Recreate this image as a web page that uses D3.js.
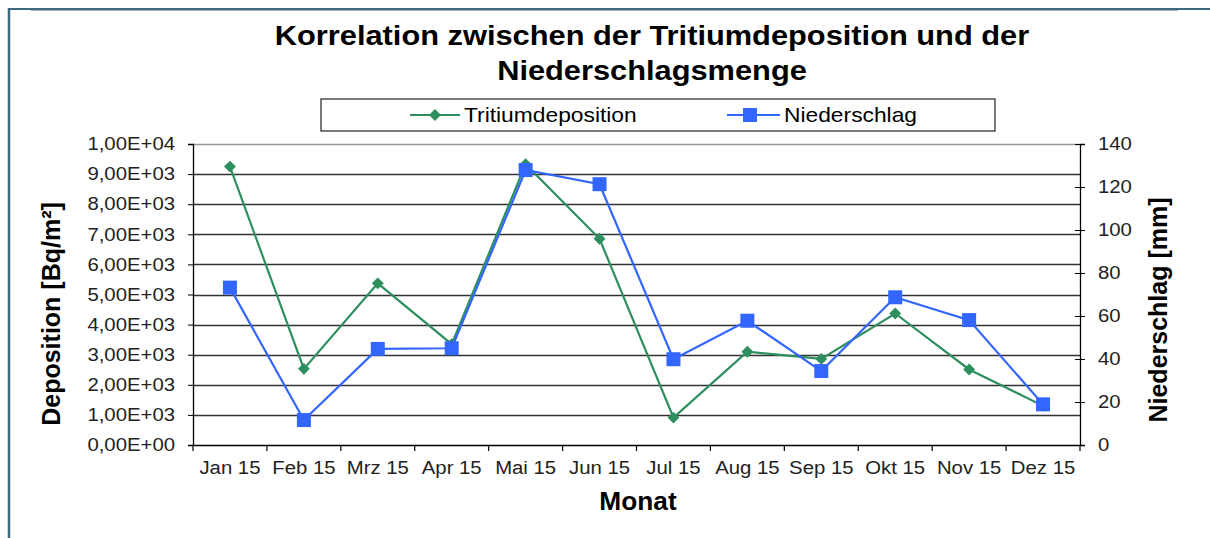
<!DOCTYPE html>
<html><head><meta charset="utf-8">
<script src="https://cdn.jsdelivr.net/npm/d3@7"></script>
<style>
html,body{margin:0;padding:0;background:#fff;}
svg{display:block;font-family:"Liberation Sans",Arial,sans-serif;}
</style></head>
<body><svg id="c" width="1210" height="538"></svg>
<script>
const months = ["Jan 15","Feb 15","Mrz 15","Apr 15","Mai 15","Jun 15","Jul 15","Aug 15","Sep 15","Okt 15","Nov 15","Dez 15"];
const tritium = [9250, 2530, 5370, 3350, 9330, 6850, 910, 3100, 2860, 4370, 2510, 1300];
const niederschlag = [73.2, 11.6, 44.7, 45.0, 127.9, 121.3, 39.9, 57.8, 34.4, 68.7, 58.1, 18.9];
const leftTicks = [0,1000,2000,3000,4000,5000,6000,7000,8000,9000,10000];
const leftTickLabels = ["0,00E+00","1,00E+03","2,00E+03","3,00E+03","4,00E+03","5,00E+03","6,00E+03","7,00E+03","8,00E+03","9,00E+03","1,00E+04"];
const rightTicks = [0,20,40,60,80,100,120,140];

const svg = d3.select("#c");
const green = "#2e8f5e", blue = "#3366ff";
const L = 193, R = 1080, T = 144, B = 445;
const SX = 1.13;

// frame
svg.append("line").attr("x1",9).attr("x2",1210).attr("y1",9).attr("y2",9).attr("stroke","#3d6a80").attr("stroke-width",2);
svg.append("line").attr("x1",9).attr("x2",9).attr("y1",8).attr("y2",538).attr("stroke","#3d6a80").attr("stroke-width",2.5);
svg.append("line").attr("x1",31).attr("x2",1178).attr("y1",10.5).attr("y2",10.5).attr("stroke","#b0b0b0").attr("stroke-width",1.2);

const x = d3.scaleBand().domain(months).range([L,R]);
const yL = d3.scaleLinear().domain([0,10000]).range([B,T]);
const yR = d3.scaleLinear().domain([0,140]).range([B,T]);

// title
const title = svg.append("text").attr("text-anchor","middle").attr("font-weight","bold").attr("font-size",28).attr("fill","#000")
  .attr("transform","translate(652,0) scale(1.1,1)");
title.append("tspan").attr("x",0).attr("y",45).text("Korrelation zwischen der Tritiumdeposition und der");
title.append("tspan").attr("x",0).attr("y",80).text("Niederschlagsmenge");

// gridlines
svg.append("g").selectAll("line").data(leftTicks.slice(1)).join("line")
  .attr("x1",L).attr("x2",R).attr("y1",d=>Math.round(yL(d))+0.5).attr("y2",d=>Math.round(yL(d))+0.5)
  .attr("stroke",d=>d===10000?"#999":"#333").attr("stroke-width",d=>d===10000?1.5:1.3);

function styleTicks(g){
  g.selectAll("text").attr("font-size",18).attr("fill","#222").attr("font-family","Liberation Sans, Arial, sans-serif");
}
// left axis
const gl = svg.append("g").attr("transform",`translate(${L},0)`)
  .call(d3.axisLeft(yL).tickValues(leftTicks).tickFormat((d,i)=>leftTickLabels[i]).tickSize(5).tickPadding(13));
gl.select(".domain").attr("stroke","#000").attr("stroke-width",1.3);
gl.selectAll(".tick line").attr("stroke","#000");
styleTicks(gl);
gl.selectAll("text").attr("x",-18/SX).attr("transform",`scale(${SX},1)`);

// right axis
const gr = svg.append("g").attr("transform",`translate(${R},0)`)
  .call(d3.axisRight(yR).tickValues(rightTicks).tickSize(5).tickPadding(13));
gr.select(".domain").attr("stroke","#000").attr("stroke-width",1.3);
gr.selectAll(".tick line").attr("stroke","#000").attr("x1",-5);
styleTicks(gr);
gr.selectAll("text").attr("x",18/SX).attr("transform",`scale(${SX},1)`);

// x axis
const gx = svg.append("g").attr("transform",`translate(0,${B})`)
  .call(d3.axisBottom(x).tickSize(0).tickPadding(16));
gx.select(".domain").attr("stroke","#000").attr("stroke-width",1.3);
styleTicks(gx);
gx.selectAll("text").attr("transform",`scale(${SX},1)`);
const bounds = months.map(m=>x(m)).concat([R]);
svg.append("g").selectAll("line").data(bounds).join("line")
  .attr("x1",d=>d).attr("x2",d=>d).attr("y1",B).attr("y2",B+6).attr("stroke","#000").attr("stroke-width",1.2);

// axis titles
svg.append("text").attr("transform","translate(60,314) rotate(-90)").attr("text-anchor","middle")
  .attr("font-weight","bold").attr("font-size",25).text("Deposition [Bq/m²]");
svg.append("text").attr("transform","translate(1167,310) rotate(-90)").attr("text-anchor","middle")
  .attr("font-weight","bold").attr("font-size",25).text("Niederschlag [mm]");
svg.append("text").attr("transform","translate(638,510) scale(1.05,1)").attr("text-anchor","middle")
  .attr("font-weight","bold").attr("font-size",25).text("Monat");

const cx = m => x(m) + x.bandwidth()/2;

// tritium line
svg.append("path").datum(tritium).attr("fill","none").attr("stroke",green).attr("stroke-width",2.2)
  .attr("d", d3.line().x((d,i)=>cx(months[i])).y(d=>yL(d)));
svg.append("g").selectAll("path").data(tritium).join("path")
  .attr("transform",(d,i)=>`translate(${cx(months[i])},${yL(d)})`)
  .attr("d", d3.symbol(d3.symbolDiamond2, 90)()).attr("fill",green);

// niederschlag line
svg.append("path").datum(niederschlag).attr("fill","none").attr("stroke",blue).attr("stroke-width",2.2)
  .attr("d", d3.line().x((d,i)=>cx(months[i])).y(d=>yR(d)));
svg.append("g").selectAll("rect").data(niederschlag).join("rect")
  .attr("x",(d,i)=>cx(months[i])-7).attr("y",d=>yR(d)-7).attr("width",14).attr("height",14).attr("fill",blue);

// legend
svg.append("rect").attr("x",321).attr("y",99).attr("width",674).attr("height",32)
  .attr("fill","#fff").attr("stroke","#222").attr("stroke-width",1.2);
svg.append("line").attr("x1",410).attr("x2",460).attr("y1",115).attr("y2",115).attr("stroke",green).attr("stroke-width",2.2);
svg.append("path").attr("transform","translate(435,115)").attr("d",d3.symbol(d3.symbolDiamond2,90)()).attr("fill",green);
svg.append("text").attr("transform","translate(464,122) scale(1.14,1)").attr("font-size",20).text("Tritiumdeposition");
svg.append("line").attr("x1",727).attr("x2",780).attr("y1",115).attr("y2",115).attr("stroke",blue).attr("stroke-width",2.2);
svg.append("rect").attr("x",743).attr("y",108).attr("width",14).attr("height",14).attr("fill",blue);
svg.append("text").attr("transform","translate(784,122) scale(1.14,1)").attr("font-size",20).text("Niederschlag");
</script></body></html>
